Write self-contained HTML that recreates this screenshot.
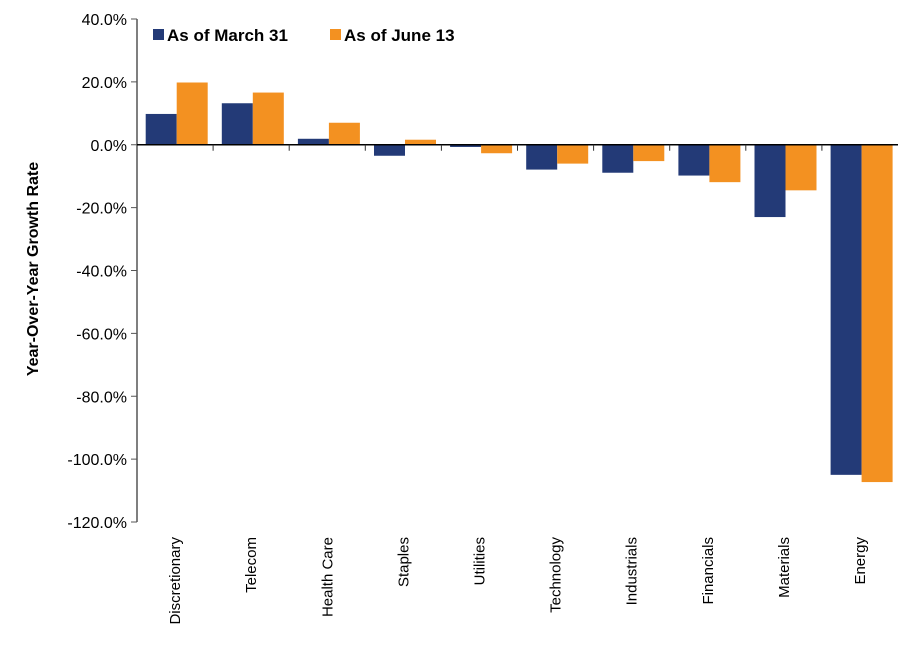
<!DOCTYPE html>
<html><head><meta charset="utf-8"><style>
body{margin:0;background:#fff;font-family:"Liberation Sans",Arial,sans-serif;}
</style></head><body>
<svg id="chart" width="910" height="660" xmlns="http://www.w3.org/2000/svg">
</svg>
<script>
const categories=["Discretionary","Telecom","Health Care","Staples","Utilities","Technology","Industrials","Financials","Materials","Energy"];
const march31=[9.8,13.2,1.9,-3.5,-0.7,-7.9,-8.9,-9.8,-23.0,-105.0];
const june13=[19.8,16.6,7.0,1.6,-2.7,-6.0,-5.2,-11.9,-14.5,-107.3];
const yTicks=[40,20,0,-20,-40,-60,-80,-100,-120];
const seriesNames=["As of March 31","As of June 13"];
const colors=["#233a77","#f39121"];
const svg=document.getElementById('chart');
const NS='http://www.w3.org/2000/svg';
const L=137,R=898,T=19,B=522,ymax=40,ymin=-120;
const y=v=>T+(ymax-v)/(ymax-ymin)*(B-T);
const step=(R-L)/categories.length;
const x=i=>L+i*step;
function mk(tag,attrs,parent){const e=document.createElementNS(NS,tag);for(const k in attrs)e.setAttribute(k,attrs[k]);(parent||svg).appendChild(e);return e;}
yTicks.forEach(t=>{
 const l=mk('line',{x1:L-6,x2:L,y1:y(t),y2:y(t),stroke:'#555','stroke-width':1});
 
 
 const tx=mk('text',{x:L-10,y:y(t)+6,'text-anchor':'end','font-size':16,fill:'#000'});
 tx.textContent=t.toFixed(1)+'%';
 
 
});
const bw=31,off=8.7;
[march31,june13].forEach((s,si)=>{
 s.forEach((v,i)=>{
  const x0=x(i)+off+si*bw;
  const r=mk('rect',{x:x0,y:Math.min(y(v),y(0)),width:bw,height:Math.abs(y(v)-y(0)),fill:colors[si]});
  
  
 });
});
const ya=mk('line',{x1:L,x2:L,y1:T,y2:B,stroke:'#555','stroke-width':1.5});


const xa=mk('line',{x1:L,x2:R,y1:y(0),y2:y(0),stroke:'#000','stroke-width':1.5});


for(let i=1;i<categories.length;i++){
 const t=mk('line',{x1:x(i),x2:x(i),y1:y(0),y2:y(0)+6,stroke:'#333','stroke-width':1});
 
 
}
categories.forEach((c,i)=>{
 const cx=x(i)+step/2+5, ty=537;
 const t=mk('text',{x:cx,y:ty,'text-anchor':'end','font-size':15,fill:'#000',transform:`rotate(-90 ${cx} ${ty})`});
 t.textContent=c;
 
 
});
const yt=mk('text',{x:38,y:269,'text-anchor':'middle','font-size':16,'font-weight':'bold',fill:'#000',transform:'rotate(-90 38 269)'});
yt.textContent='Year-Over-Year Growth Rate';


const lx=[153,330];
seriesNames.forEach((n,i)=>{
 const g=mk('g',{});
 
 
 mk('rect',{x:lx[i],y:29,width:11,height:11,fill:colors[i]},g);
 const t=mk('text',{x:lx[i]+14,y:41,'font-size':17,'font-weight':'bold',fill:'#000'},g);
 t.textContent=n;
});
</script>
</body></html>
